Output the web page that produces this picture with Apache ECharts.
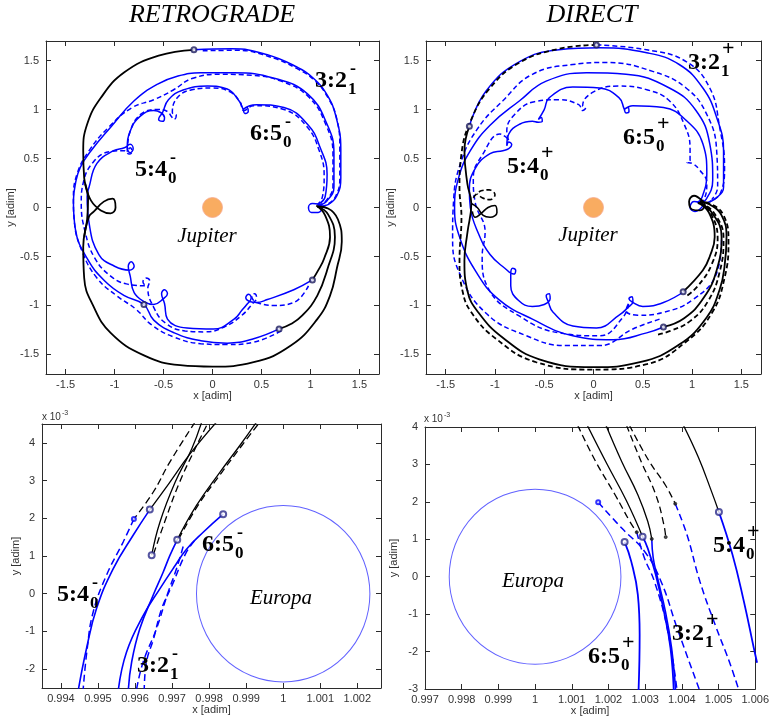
<!DOCTYPE html>
<html>
<head>
<meta charset="utf-8">
<script src="https://cdn.jsdelivr.net/npm/echarts@6/dist/echarts.min.js"></script>
<style>
  html, body { margin: 0; background: #fff; }
  #chart { width: 772px; height: 719px; }
</style>
</head>
<body>
<div id="chart"></div>
<script>
// ---- tick values ----
const bigTicks = [-1.5, -1, -0.5, 0, 0.5, 1, 1.5];
const blXTicks = [0.994, 0.995, 0.996, 0.997, 0.998, 0.999, 1, 1.001, 1.002];
const blYTicks = [-2, -1, 0, 1, 2, 3, 4];
const brXTicks = [0.997, 0.998, 0.999, 1, 1.001, 1.002, 1.003, 1.004, 1.005, 1.006];
const brYTicks = [-3, -2, -1, 0, 1, 2, 3, 4];

// ---- RETROGRADE, Jupiter frame ----
const retroBlackOuter = [[-0.19,1.61],[-0.55,1.55],[-0.90,1.38],[-1.14,1.12],[-1.28,0.85],[-1.32,0.58],[-1.31,0.30],[-1.27,0.10],[-1.28,-0.12],[-1.32,-0.40],[-1.31,-0.72],[-1.22,-1.00],[-1.04,-1.28],[-0.70,-1.51],[-0.33,-1.61],[0,-1.625],[0.42,-1.58],[0.80,-1.41],[1.07,-1.14],[1.20,-0.90],[1.27,-0.62],[1.32,-0.35],[1.28,-0.12],[1.18,-0.01],[1.07,0.01]];
const retroBlackMid = [[1.07,0.01],[1.18,-0.07],[1.25,-0.30],[1.17,-0.64],[1.07,-0.90],[0.92,-1.10],[0.80,-1.19],[0.68,-1.24]];
const retroBlackInner = [[1.06,0.02],[1.15,-0.08],[1.20,-0.30],[1.14,-0.52],[1.08,-0.64],[1.02,-0.74]];
const retroBlackEight = [[-1.30,0.24],[-1.24,0.07],[-1.14,-0.03],[-1.04,-0.06],[-0.99,0.0],[-1.02,0.09],[-1.11,0.06],[-1.21,-0.04],[-1.26,-0.09],[-1.31,-0.30]];
const retroBlue32 = [[-0.19,1.61],[0.20,1.62],[0.56,1.56],[0.85,1.44],[1.03,1.32],[1.17,1.15],[1.26,0.93],[1.31,0.60],[1.31,0.30],[1.27,0.12],[1.18,0.03],[1.08,0.01]];
const retroBlue32d = [[-0.10,1.60],[0.25,1.605],[0.58,1.54],[0.86,1.42],[1.04,1.30],[1.18,1.12],[1.27,0.90],[1.30,0.60],[1.30,0.30],[1.26,0.12],[1.17,0.03],[1.08,0.01]];
const retroBlue54 = [[0.68,-1.24],[0.42,-1.34],[0.15,-1.385],[-0.12,-1.36],[-0.39,-1.28],[-0.60,-1.15],[-0.70,-0.99],[-0.90,-0.90],[-1.10,-0.75],[-1.28,-0.52],[-1.40,-0.22],[-1.42,0.07],[-1.40,0.24],[-1.35,0.41],[-1.24,0.58],[-1.04,0.82],[-0.80,1.09],[-0.56,1.26],[-0.36,1.34],[-0.12,1.375],[0.22,1.375],[0.63,1.32],[0.97,1.16],[1.17,0.85],[1.24,0.55],[1.24,0.21],[1.17,0.07],[1.08,0.02]];
const retroBlue54d = [[0.70,-1.26],[0.42,-1.375],[0.15,-1.40],[-0.12,-1.39],[-0.40,-1.32],[-0.62,-1.20],[-0.78,-1.04],[-0.98,-0.90],[-1.18,-0.72],[-1.33,-0.45],[-1.41,-0.15],[-1.42,0.10],[-1.38,0.35],[-1.26,0.58],[-1.06,0.82],[-0.82,1.02],[-0.60,1.10],[-0.40,1.20],[-0.20,1.32],[0.10,1.36],[0.40,1.35],[0.70,1.29],[0.98,1.13],[1.16,0.84],[1.23,0.54],[1.23,0.22],[1.16,0.07],[1.08,0.02]];
const retroBlue65 = [[1.02,-0.74],[0.83,-0.84],[0.56,-0.94],[0.45,-0.97],[0.38,-0.96],[0.34,-0.92],[0.37,-0.885],[0.395,-0.925],[0.35,-0.99],[0.30,-1.05],[0.22,-1.14],[0.01,-1.24],[-0.26,-1.23],[-0.46,-1.14],[-0.49,-0.98],[-0.52,-0.88],[-0.49,-0.84],[-0.46,-0.88],[-0.50,-0.93],[-0.60,-0.99],[-0.70,-0.96],[-0.80,-0.87],[-0.84,-0.70],[-0.86,-0.60],[-0.83,-0.555],[-0.80,-0.60],[-0.85,-0.64],[-1.00,-0.60],[-1.16,-0.48],[-1.26,-0.16],[-1.28,0.11],[-1.26,0.21],[-1.18,0.45],[-1.01,0.58],[-0.90,0.61],[-0.84,0.645],[-0.81,0.60],[-0.84,0.56],[-0.87,0.61],[-0.84,0.78],[-0.74,0.93],[-0.60,0.99],[-0.53,0.97],[-0.49,0.92],[-0.51,0.88],[-0.55,0.90],[-0.51,0.97],[-0.45,1.10],[-0.30,1.20],[-0.05,1.24],[0.15,1.21],[0.27,1.09],[0.31,1.01],[0.33,0.96],[0.365,0.98],[0.35,1.02],[0.31,1.00],[0.38,1.04],[0.45,1.05],[0.73,1.02],[0.97,0.85],[1.10,0.61],[1.17,0.34],[1.15,0.11],[1.09,0.04]];
const retroBlue65d = [[0.98,-0.80],[0.83,-0.97],[0.62,-1.00],[0.48,-0.98],[0.42,-0.95],[0.40,-0.90],[0.43,-0.88],[0.45,-0.92],[0.41,-0.98],[0.30,-1.10],[0.12,-1.22],[-0.08,-1.27],[-0.28,-1.26],[-0.48,-1.18],[-0.60,-1.02],[-0.66,-0.82],[-0.64,-0.75],[-0.68,-0.72],[-0.71,-0.76],[-0.68,-0.80],[-0.88,-0.78],[-1.04,-0.70],[-1.20,-0.52],[-1.30,-0.25],[-1.34,0.05],[-1.32,0.25],[-1.22,0.46],[-1.05,0.57],[-0.90,0.58],[-0.85,0.545],[-0.82,0.57],[-0.84,0.61],[-0.87,0.57],[-0.84,0.78],[-0.72,0.96],[-0.56,1.00],[-0.46,0.98],[-0.42,0.93],[-0.39,0.90],[-0.37,0.94],[-0.41,0.97],[-0.36,1.12],[-0.22,1.20],[0.0,1.22],[0.18,1.18],[0.28,1.08],[0.32,0.99],[0.42,1.04],[0.73,1.00],[0.96,0.83],[1.09,0.58],[1.14,0.32],[1.12,0.10],[1.07,0.03]];
const retroLoopEuropa = [[1.10,0.03],[1.02,0.04],[0.98,0.0],[1.01,-0.05],[1.08,-0.05],[1.12,0.0],[1.08,0.03]];
const retroMarks = [[-0.19,1.61],[0.68,-1.24],[1.02,-0.74],[-0.70,-0.99]];

// ---- DIRECT, Jupiter frame ----
const directBlackOuter = [[-1.26,0.83],[-1.31,0.58],[-1.28,0.24],[-1.24,0.04],[-1.28,-0.26],[-1.31,-0.54],[-1.28,-0.85],[-1.17,-1.07],[-0.92,-1.33],[-0.55,-1.55],[0,-1.63],[0.47,-1.58],[0.87,-1.40],[1.15,-1.12],[1.28,-0.84],[1.33,-0.60],[1.35,-0.30],[1.30,-0.08],[1.18,0.03],[1.08,0.06]];
const directBlackOuterD = [[0.03,1.66],[-0.35,1.62],[-0.75,1.48],[-1.05,1.22],[-1.24,0.90],[-1.34,0.55],[-1.36,0.20],[-1.34,-0.10],[-1.36,-0.54],[-1.33,-0.85],[-1.24,-1.07],[-0.99,-1.34],[-0.58,-1.58],[0,-1.655],[0.54,-1.60],[0.94,-1.37],[1.20,-1.08],[1.33,-0.72],[1.37,-0.35],[1.32,-0.08],[1.18,0.04],[1.08,0.06]];
const directBlackMid = [[1.07,0.05],[1.20,-0.05],[1.30,-0.30],[1.25,-0.64],[1.12,-0.92],[0.92,-1.13],[0.71,-1.22]];
const directBlackMidD = [[1.08,0.05],[1.22,-0.05],[1.32,-0.32],[1.28,-0.66],[1.16,-0.96],[0.98,-1.16],[0.78,-1.26],[0.64,-1.30]];
const directBlackIn = [[1.06,0.05],[1.17,-0.05],[1.23,-0.30],[1.18,-0.50],[1.11,-0.64],[0.91,-0.86]];
const directBlackInD = [[1.07,0.05],[1.19,-0.06],[1.26,-0.32],[1.20,-0.58],[1.06,-0.80],[0.95,-0.90]];
const directBlackLoop = [[1.10,0.07],[1.02,0.12],[0.97,0.06],[1.00,-0.02],[1.08,-0.03],[1.13,0.03],[1.08,0.09]];
const directBlackEight = [[-1.24,0.04],[-1.18,0.0],[-1.12,-0.08],[-1.05,-0.10],[-0.98,-0.05],[-1.00,0.02],[-1.07,0.0],[-1.14,-0.06],[-1.20,-0.10],[-1.23,-0.04]];
const directBlackEightD = [[-1.22,0.10],[-1.14,0.17],[-1.06,0.18],[-1.00,0.13],[-1.05,0.08],[-1.13,0.10],[-1.18,0.14]];
const directBlue32 = [[-1.26,0.83],[-1.09,1.19],[-0.75,1.49],[-0.35,1.61],[0.06,1.63],[0.54,1.58],[0.87,1.46],[1.11,1.22],[1.25,0.92],[1.32,0.58],[1.32,0.21],[1.25,0.10],[1.15,0.05]];
const directBlue32d = [[0.03,1.66],[0.54,1.61],[0.94,1.49],[1.18,1.22],[1.28,0.82],[1.33,0.41],[1.29,0.15],[1.18,0.06]];
const directBlue54 = [[0.71,-1.22],[0.54,-1.28],[0.20,-1.35],[-0.21,-1.31],[-0.62,-1.14],[-0.96,-0.94],[-1.19,-0.66],[-1.36,-0.30],[-1.41,0.0],[-1.37,0.30],[-1.25,0.58],[-1.05,0.84],[-0.75,1.09],[-0.48,1.29],[-0.07,1.375],[0.33,1.36],[0.77,1.22],[1.04,0.99],[1.18,0.65],[1.21,0.28],[1.14,0.08],[1.06,0.04]];
const directBlue54d = [[0.67,-1.14],[0.40,-1.24],[0.06,-1.41],[-0.28,-1.41],[-0.68,-1.31],[-1.09,-1.08],[-1.36,-0.67],[-1.43,-0.30],[-1.42,0.07],[-1.35,0.45],[-1.18,0.80],[-0.92,1.09],[-0.62,1.36],[-0.21,1.46],[0.13,1.48],[0.60,1.39],[0.94,1.22],[1.15,0.95],[1.25,0.58],[1.26,0.21],[1.20,0.08]];
const directBlue65 = [[0.93,-0.85],[0.71,-0.97],[0.50,-1.01],[0.40,-0.97],[0.36,-0.93],[0.39,-0.91],[0.40,-0.96],[0.35,-1.02],[0.26,-1.10],[0.03,-1.23],[-0.21,-1.21],[-0.41,-1.07],[-0.46,-0.96],[-0.48,-0.90],[-0.45,-0.88],[-0.44,-0.93],[-0.50,-0.99],[-0.62,-1.01],[-0.76,-0.95],[-0.84,-0.80],[-0.84,-0.68],[-0.82,-0.62],[-0.79,-0.64],[-0.81,-0.68],[-0.90,-0.62],[-1.05,-0.48],[-1.17,-0.26],[-1.25,0.0],[-1.26,0.18],[-1.20,0.40],[-1.05,0.55],[-0.92,0.58],[-0.86,0.60],[-0.83,0.64],[-0.86,0.67],[-0.88,0.63],[-0.86,0.75],[-0.75,0.85],[-0.62,0.88],[-0.56,0.87],[-0.52,0.88],[-0.53,0.92],[-0.56,0.90],[-0.50,1.0],[-0.45,1.12],[-0.21,1.23],[0.06,1.22],[0.26,1.12],[0.31,1.01],[0.33,0.965],[0.36,0.98],[0.35,1.02],[0.31,1.00],[0.40,1.04],[0.71,1.02],[0.94,0.89],[1.11,0.65],[1.15,0.34],[1.10,0.10],[1.05,0.05]];
const directBlue65d = [[1.30,-0.33],[1.25,-0.67],[1.01,-0.94],[0.71,-1.07],[0.45,-1.10],[0.33,-1.05],[0.36,-0.97],[0.30,-1.12],[0.06,-1.31],[-0.35,-1.28],[-0.75,-1.11],[-1.06,-0.84],[-1.13,-0.50],[-1.10,-0.25],[-1.20,0.05],[-1.22,0.30],[-1.12,0.55],[-0.95,0.75],[-0.89,0.72],[-0.86,0.68],[-0.88,0.78],[-0.80,0.95],[-0.60,1.08],[-0.35,1.10],[-0.15,1.05],[-0.11,0.99],[-0.08,1.02],[-0.11,1.04],[0.0,1.18],[0.25,1.24],[0.55,1.20],[0.77,1.09],[0.92,0.85],[0.98,0.60],[0.98,0.48],[0.95,0.46],[1.0,0.45],[1.08,0.38],[1.15,0.25],[1.12,0.08],[1.06,0.05]];
const directLoopEuropa = [[1.12,0.03],[1.03,-0.04],[0.98,0.0],[1.02,0.06],[1.08,0.05]];
const directMarks = [[-1.26,0.83],[0.91,-0.86],[0.71,-1.22],[0.03,1.66]];

// ---- RETROGRADE, close to Europa (y in 1e-3) ----
const blBlackD1 = [[0.99762,4.55],[0.99694,3.49],[0.99649,2.69],[0.99597,1.98]];
const blBlackS1 = [[0.99640,2.23],[0.99690,2.90],[0.99748,3.70],[0.99820,4.55]];
const blBlackS2 = [[0.99645,1.02],[0.99667,1.89],[0.99708,2.95],[0.99753,3.84],[0.99780,4.55]];
const blBlackD2 = [[0.99650,1.05],[0.99680,1.90],[0.99718,2.90],[0.99760,3.80],[0.99798,4.55]];
const blBlackS3 = [[0.99714,1.43],[0.99766,2.34],[0.99829,3.22],[0.99883,3.93],[0.99928,4.55]];
const blBlackD3 = [[0.99718,1.45],[0.99770,2.34],[0.99833,3.20],[0.99890,3.95],[0.99937,4.55]];
const bl54 = [[0.99640,2.23],[0.99595,1.55],[0.99541,0.66],[0.99496,-0.40],[0.99469,-1.46],[0.99447,-2.55]];
const bl54d = [[0.99597,1.98],[0.99568,1.37],[0.99523,0.49],[0.99487,-0.49],[0.99471,-1.46],[0.99460,-2.55]];
const bl65 = [[0.99838,2.11],[0.99784,1.63],[0.99739,1.18],[0.99708,0.74],[0.99667,0.13],[0.99622,-0.58],[0.99577,-1.55],[0.99555,-2.55]];
const bl32 = [[0.99714,1.43],[0.99694,1.01],[0.99676,0.57],[0.99649,-0.04],[0.99613,-0.93],[0.99591,-1.81],[0.99582,-2.55]];
const blDashA = [[0.99730,1.25],[0.99712,0.66],[0.99688,0.0],[0.99658,-0.93],[0.99622,-1.81],[0.99604,-2.55]];
const blDashB = [[0.99760,1.40],[0.99736,1.05],[0.99700,0.22],[0.99672,-0.40],[0.99650,-1.20],[0.99631,-1.81],[0.99625,-2.55]];
const blMarks = [[0.99640,2.23],[0.99838,2.11],[0.99714,1.43],[0.99645,1.02]];
const blSmallMarks = [[0.99597,1.98]];

// ---- DIRECT, close to Europa (y in 1e-3) ----
const brBlackD1 = [[1.00116,4.05],[1.00165,3.08],[1.00218,2.19],[1.00258,1.48],[1.00277,1.19]];
const brBlackS1 = [[1.00142,4.05],[1.00196,3.01],[1.00249,2.03],[1.00293,1.07]];
const brBlackS2 = [[1.00193,4.05],[1.00236,3.08],[1.00280,2.19],[1.00307,1.48],[1.00318,1.01]];
const brBlackD2 = [[1.00249,4.05],[1.00289,3.08],[1.00329,2.19],[1.00351,1.39],[1.00356,1.06]];
const brBlackD3 = [[1.00257,4.05],[1.00310,3.10],[1.00355,2.45],[1.00382,1.95]];
const brBlackS3 = [[1.00404,4.05],[1.00445,3.19],[1.00480,2.30],[1.00501,1.73]];
const br54 = [[1.00501,1.73],[1.00538,0.59],[1.00569,-0.66],[1.00596,-1.90],[1.00605,-2.30]];
const brDashA = [[1.00382,1.95],[1.00414,1.12],[1.00449,-0.12],[1.00494,-1.37],[1.00529,-2.26],[1.00556,-3.05]];
const br65 = [[1.00244,0.93],[1.00262,0.41],[1.00280,-0.48],[1.00285,-1.55],[1.00282,-3.05]];
const br32 = [[1.00293,1.07],[1.00307,0.76],[1.00329,0.05],[1.00351,-0.92],[1.00369,-1.90],[1.00378,-3.05]];
const br32b = [[1.00318,1.01],[1.00322,0.50],[1.00333,0.0],[1.00355,-0.92],[1.00372,-1.90],[1.00383,-3.05]];
const brDashB = [[1.00172,1.99],[1.00236,1.30],[1.00298,0.68],[1.00343,-0.12],[1.00387,-1.37],[1.00449,-3.05]];
const brDashC = [[1.00277,1.19],[1.00298,0.50],[1.00325,-0.12],[1.00360,-1.37],[1.00387,-3.05]];
const brMarks = [[1.00501,1.73],[1.00244,0.93],[1.00293,1.07]];
const brSmallMarks = [[1.00172,1.99]];
const brDots = [[1.00277,1.19],[1.00318,1.01],[1.00356,1.06],[1.00382,1.95]];

// Europa centre (x) and radius in 1e-3 units
const europaCentre = [1, 0];
const europaRadius = 2.34;

const BLUE = '#0000ff', BLACK = '#000000';
const axisGrey = '#2b2b2b';
const tickFont = { color: '#333', fontFamily: 'Liberation Sans', fontSize: 11 };

const chart = echarts.init(document.getElementById('chart'));

function xPair(g, min, max, ticks, fmt, gap) {
  const common = { type: 'value', gridIndex: g, min: min, max: max, splitLine: { show: false },
    axisLine: { show: true, onZero: false, lineStyle: { color: axisGrey } } };
  return [
    Object.assign({}, common, { position: 'bottom', name: 'x [adim]', nameLocation: 'middle', nameGap: gap,
      nameTextStyle: tickFont,
      axisTick: { inside: true, length: 5, customValues: ticks, lineStyle: { color: axisGrey } },
      axisLabel: Object.assign({ customValues: ticks, formatter: fmt, margin: 5 }, tickFont) }),
    Object.assign({}, common, { position: 'top',
      axisTick: { inside: true, length: 5, customValues: ticks, lineStyle: { color: axisGrey } },
      axisLabel: { show: false } })
  ];
}
function yPair(g, min, max, ticks, gap) {
  const common = { type: 'value', gridIndex: g, min: min, max: max, splitLine: { show: false },
    axisLine: { show: true, onZero: false, lineStyle: { color: axisGrey } } };
  return [
    Object.assign({}, common, { position: 'left', name: 'y [adim]', nameLocation: 'middle', nameGap: gap,
      nameTextStyle: tickFont,
      axisTick: { inside: true, length: 5, customValues: ticks, lineStyle: { color: axisGrey } },
      axisLabel: Object.assign({ customValues: ticks, formatter: v => String(v), margin: 7 }, tickFont) }),
    Object.assign({}, common, { position: 'right',
      axisTick: { inside: true, length: 5, customValues: ticks, lineStyle: { color: axisGrey } },
      axisLabel: { show: false } })
  ];
}

function line(g, data, color, dashed, width, dash) {
  return { type: 'line', xAxisIndex: 2 * g, yAxisIndex: 2 * g, data: data, showSymbol: false,
    smooth: 0.45, silent: true, animation: false,
    lineStyle: { color: color, width: width || 1.5, type: dashed ? (dash || [5, 3]) : 'solid' } };
}
function marks(g, data, symbol, size, color) {
  return { type: 'scatter', xAxisIndex: 2 * g, yAxisIndex: 2 * g, data: data, symbol: symbol,
    symbolSize: size, silent: true, animation: false, z: 5,
    itemStyle: { color: color, borderColor: color, borderWidth: 1 } };
}

const labelFmt3 = v => String(+v.toFixed(3));

const series = [
  // top-left
  line(0, retroBlue54d, BLUE, true), line(0, retroBlue65d, BLUE, true), line(0, retroBlue32d, BLUE, true),
  line(0, retroBlue54, BLUE), line(0, retroBlue65, BLUE), line(0, retroBlue32, BLUE),
  line(0, retroLoopEuropa, BLUE),
  line(0, retroBlackOuter, BLACK, false, 1.8), line(0, retroBlackMid, BLACK, false, 1.8),
  line(0, retroBlackInner, BLACK, false, 1.8), line(0, retroBlackEight, BLACK, false, 1.8),
  marks(0, retroMarks, 'emptyCircle', 5, '#1a1a5e'),
  { type: 'scatter', xAxisIndex: 0, yAxisIndex: 0, data: [[0, 0]], symbolSize: 20, silent: true, animation: false,
    itemStyle: { color: '#f8973a', borderColor: '#f6a98e', borderWidth: 1 } },
  // top-right
  line(1, directBlue54d, BLUE, true), line(1, directBlue65d, BLUE, true), line(1, directBlue32d, BLUE, true),
  line(1, directBlue54, BLUE), line(1, directBlue65, BLUE), line(1, directBlue32, BLUE),
  line(1, directLoopEuropa, BLUE),
  line(1, directBlackOuterD, BLACK, true, 1.8), line(1, directBlackMidD, BLACK, true, 1.8),
  line(1, directBlackInD, BLACK, true, 1.8), line(1, directBlackEightD, BLACK, true, 1.6),
  line(1, directBlackOuter, BLACK, false, 1.8), line(1, directBlackMid, BLACK, false, 1.8),
  line(1, directBlackIn, BLACK, false, 1.8), line(1, directBlackLoop, BLACK, false, 1.8),
  line(1, directBlackEight, BLACK, false, 1.6),
  marks(1, directMarks, 'emptyCircle', 5, '#1a1a5e'),
  { type: 'scatter', xAxisIndex: 2, yAxisIndex: 2, data: [[0, 0]], symbolSize: 20, silent: true, animation: false,
    itemStyle: { color: '#f8973a', borderColor: '#f6a98e', borderWidth: 1 } },
  // bottom-left
  { id: 'europaL', type: 'scatter', xAxisIndex: 4, yAxisIndex: 4, data: [europaCentre], symbolSize: 10,
    silent: true, animation: false, itemStyle: { color: 'rgba(0,0,0,0)', borderColor: '#3a3aff', borderWidth: 1 } },
  line(2, bl54d, BLUE, true, 1.5, [7, 4]), line(2, blDashA, BLUE, true, 1.5, [7, 4]), line(2, blDashB, BLUE, true, 1.5, [7, 4]),
  line(2, bl54, BLUE, false, 1.6), line(2, bl65, BLUE, false, 1.6), line(2, bl32, BLUE, false, 1.6),
  line(2, blBlackD1, BLACK, true, 1.3, [7, 4]), line(2, blBlackD2, BLACK, true, 1.3, [7, 4]), line(2, blBlackD3, BLACK, true, 1.3, [7, 4]),
  line(2, blBlackS1, BLACK, false, 1.3), line(2, blBlackS2, BLACK, false, 1.3), line(2, blBlackS3, BLACK, false, 1.3),
  marks(2, blMarks, 'emptyCircle', 6, '#2a2a8a'),
  marks(2, blSmallMarks, 'emptyCircle', 4, BLUE),
  // bottom-right
  { id: 'europaR', type: 'scatter', xAxisIndex: 6, yAxisIndex: 6, data: [europaCentre], symbolSize: 10,
    silent: true, animation: false, itemStyle: { color: 'rgba(0,0,0,0)', borderColor: '#3a3aff', borderWidth: 1 } },
  line(3, brDashA, BLUE, true, 1.5, [7, 4]), line(3, brDashB, BLUE, true, 1.5, [7, 4]), line(3, brDashC, BLUE, true, 1.5, [7, 4]),
  line(3, br54, BLUE, false, 1.8), line(3, br65, BLUE, false, 1.8), line(3, br32, BLUE, false, 1.8), line(3, br32b, BLUE, false, 1.6),
  line(3, brBlackD1, BLACK, true, 1.3, [7, 4]), line(3, brBlackD2, BLACK, true, 1.3, [7, 4]), line(3, brBlackD3, BLACK, true, 1.3, [7, 4]),
  line(3, brBlackS1, BLACK, false, 1.3), line(3, brBlackS2, BLACK, false, 1.3), line(3, brBlackS3, BLACK, false, 1.3),
  marks(3, brMarks, 'emptyCircle', 6, '#2a2a8a'),
  marks(3, brSmallMarks, 'emptyCircle', 4, BLUE),
  marks(3, brDots, 'circle', 3, '#222')
];

// resonance label: main text with subscript and superscript
function resLabel(x, y, main, sub, sup) {
  const plus = sup === '+';
  return [
    { type: 'text', x: x, y: y, z: 10, style: { text: main, font: 'bold 24px "Liberation Serif"', fill: '#000', textVerticalAlign: 'middle' } },
    { type: 'text', x: x + 33, y: y + 9, z: 10, style: { text: sub, font: 'bold 17px "Liberation Serif"', fill: '#000', textVerticalAlign: 'middle' } },
    { type: 'text', x: x + (plus ? 34 : 35), y: y - (plus ? 14 : 12), z: 10, style: { text: sup, font: (plus ? 'bold 22px' : 'bold 18px') + ' "Liberation Serif"', fill: '#000', textVerticalAlign: 'middle' } }
  ];
}
function italic(x, y, text, size) {
  return { type: 'text', x: x, y: y, z: 10, style: { text: text, font: 'italic ' + size + 'px "Liberation Serif"', fill: '#000', textAlign: 'center', textVerticalAlign: 'middle' } };
}
function scaleNote(x, y) {
  return [
    { type: 'text', x: x, y: y, style: { text: 'x 10', font: '10px "Liberation Sans"', fill: '#333', textVerticalAlign: 'middle' } },
    { type: 'text', x: x + 20, y: y - 4, style: { text: '-3', font: '7px "Liberation Sans"', fill: '#333', textVerticalAlign: 'middle' } }
  ];
}

const graphic = [].concat(
  italic(212, 15, 'RETROGRADE', 26), italic(592, 15, 'DIRECT', 26),
  italic(207, 236, 'Jupiter', 21), italic(588, 235, 'Jupiter', 21),
  italic(281, 598, 'Europa', 21), italic(533, 581, 'Europa', 21),
  resLabel(315, 81, '3:2', '1', '-'), resLabel(250, 134, '6:5', '0', '-'), resLabel(135, 170, '5:4', '0', '-'),
  resLabel(688, 63, '3:2', '1', '+'), resLabel(623, 138, '6:5', '0', '+'), resLabel(507, 167, '5:4', '0', '+'),
  resLabel(57, 595, '5:4', '0', '-'), resLabel(202, 545, '6:5', '0', '-'), resLabel(137, 666, '3:2', '1', '-'),
  resLabel(713, 546, '5:4', '0', '+'), resLabel(672, 634, '3:2', '1', '+'), resLabel(588, 657, '6:5', '0', '+'),
  scaleNote(42, 417), scaleNote(424, 419)
);

chart.setOption({
  animation: false,
  backgroundColor: '#fff',
  grid: [
    { left: 46, top: 41, width: 333, height: 333 },
    { left: 426, top: 41, width: 335, height: 333 },
    { left: 42, top: 424, width: 339, height: 264 },
    { left: 425, top: 427, width: 337, height: 262 }
  ],
  xAxis: [].concat(
    xPair(0, -1.7, 1.7, bigTicks, v => String(v), 16),
    xPair(1, -1.7, 1.7, bigTicks, v => String(v), 16),
    xPair(2, 0.99349, 1.00264, blXTicks, labelFmt3, 14),
    xPair(3, 0.997, 1.006, brXTicks, labelFmt3, 15)
  ),
  yAxis: [].concat(
    yPair(0, -1.7, 1.7, bigTicks, 25),
    yPair(1, -1.7, 1.7, bigTicks, 25),
    yPair(2, -2.5, 4.5, blYTicks, 16),
    yPair(3, -3, 4, brYTicks, 26)
  ),
  series: series,
  graphic: graphic
});

// size the Europa ring from the axis scales
function ringSize(axisIdx) {
  const c = chart.convertToPixel({ xAxisIndex: axisIdx, yAxisIndex: axisIdx }, europaCentre);
  const e = chart.convertToPixel({ xAxisIndex: axisIdx, yAxisIndex: axisIdx },
    [europaCentre[0] + europaRadius / 1000, europaCentre[1] + europaRadius]);
  return [2 * Math.abs(e[0] - c[0]), 2 * Math.abs(c[1] - e[1])];
}
chart.setOption({ series: [
  { id: 'europaL', symbolSize: ringSize(4) },
  { id: 'europaR', symbolSize: ringSize(6) }
] });
</script>
</body>
</html>
